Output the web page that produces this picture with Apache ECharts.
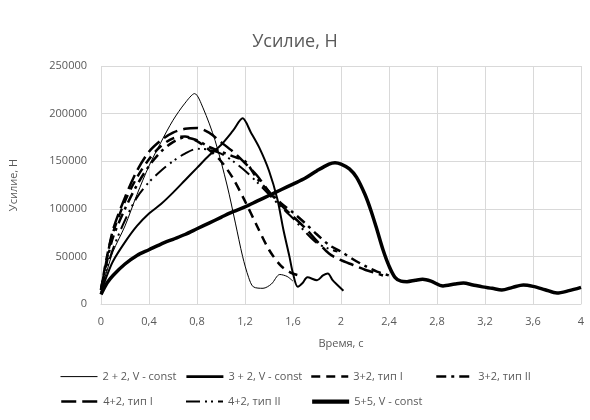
<!DOCTYPE html>
<html>
<head>
<meta charset="utf-8">
<script src="https://cdn.jsdelivr.net/npm/echarts@6/dist/echarts.min.js"></script>
<style>
  html, body { margin: 0; padding: 0; background: #fff; }
  #chart { width: 590px; height: 420px; }
</style>
</head>
<body>
<div id="chart"></div>
<script>
// Force vs. time for seven test runs: [time, s ; force, N]
var s22V = [[0,15000],[0.05,35000],[0.1,55000],[0.2,82000],[0.3,115000],[0.4,145000],[0.5,170000],[0.6,193000],[0.7,211000],[0.78,221000],[0.85,206000],[0.95,172000],[1.05,125000],[1.12,85000],[1.18,50000],[1.23,28000],[1.27,18000],[1.35,16500],[1.42,21000],[1.49,31000],[1.55,29000],[1.6,24000]];
var s32V = [[0,12000],[0.05,30000],[0.1,45000],[0.2,65000],[0.3,82000],[0.4,95000],[0.5,105000],[0.6,117000],[0.7,130000],[0.8,143000],[0.9,156000],[1.0,167000],[1.1,182000],[1.18,195000],[1.25,180000],[1.32,164000],[1.4,140000],[1.47,110000],[1.52,78000],[1.57,50000],[1.6,32000],[1.64,18000],[1.68,22000],[1.72,28000],[1.8,25000],[1.85,30000],[1.89,32000],[1.93,25000],[1.97,20000],[2.02,14000]];
var s32T1 = [[0,15000],[0.05,50000],[0.1,75000],[0.2,108000],[0.3,133000],[0.4,152000],[0.5,166000],[0.6,174000],[0.7,176000],[0.8,171000],[0.9,162000],[1.0,150000],[1.1,132000],[1.2,108000],[1.3,82000],[1.4,57000],[1.5,40000],[1.58,33000],[1.65,30000]];
var s32T2 = [[0,15000],[0.05,45000],[0.1,70000],[0.2,100000],[0.3,125000],[0.4,145000],[0.5,160000],[0.6,170000],[0.7,175000],[0.8,172000],[0.9,165000],[1.0,160000],[1.1,155000],[1.2,150000],[1.3,132000],[1.4,118000],[1.5,106000],[1.6,96000],[1.7,85000],[1.8,73000],[1.9,62000],[2.0,55000],[2.1,47000],[2.2,40000],[2.3,34000],[2.4,30000]];
var s42T1 = [[0,15000],[0.05,48000],[0.1,78000],[0.2,112000],[0.3,140000],[0.4,160000],[0.5,172000],[0.6,180000],[0.7,184000],[0.8,185000],[0.9,180000],[1.0,170000],[1.1,160000],[1.2,148000],[1.3,135000],[1.4,118000],[1.5,104000],[1.6,92000],[1.7,80000],[1.8,66000],[1.9,53000],[2.0,46000],[2.1,41000],[2.2,36000],[2.3,32000],[2.35,30000]];
var s42T2 = [[0,15000],[0.05,38000],[0.1,58000],[0.2,88000],[0.3,112000],[0.4,128000],[0.5,140000],[0.6,150000],[0.7,158000],[0.8,163000],[0.9,162000],[1.0,158000],[1.1,150000],[1.2,140000],[1.3,128000],[1.4,115000],[1.5,102000],[1.6,90000],[1.7,76000],[1.8,64000],[1.9,58000],[1.97,55000]];
var s55V = [[0,10000],[0.05,22000],[0.1,30000],[0.2,42000],[0.3,51000],[0.4,57000],[0.5,63000],[0.6,68000],[0.7,73000],[0.8,79000],[0.9,85000],[1.0,91000],[1.1,97000],[1.2,102000],[1.3,108000],[1.4,114000],[1.5,120000],[1.6,126000],[1.7,132000],[1.8,140000],[1.9,147000],[1.95,148500],[2.0,147000],[2.07,142000],[2.13,133000],[2.2,115000],[2.25,98000],[2.3,78000],[2.35,57000],[2.4,40000],[2.45,28000],[2.5,24000],[2.55,23500],[2.62,25000],[2.68,26000],[2.75,24000],[2.85,19000],[2.95,21000],[3.02,22000],[3.1,20000],[3.18,18000],[3.26,16500],[3.34,14700],[3.43,17500],[3.52,20000],[3.6,18500],[3.7,15000],[3.8,11500],[3.9,14000],[4.0,17500]];

var seriesNames = ['2 + 2, V - const', '3 + 2, V - const', '3+2, тип I', '3+2, тип II', '4+2, тип I', '4+2, тип II', '5+5, V - const'];
var seriesData = [s22V, s32V, s32T1, s32T2, s42T1, s42T2, s55V];

var xMin = 0, xMax = 4, xStep = 0.4;
var yMin = 0, yMax = 250000, yStep = 50000;

var font = 'Open Sans';
var grey = '#595959';

// line look per run
var styles = [
  { width: 1,   type: 'solid' },
  { width: 2,   type: 'solid' },
  { width: 2.5, type: [9, 6] },
  { width: 2.5, type: [10, 5, 3, 5] },
  { width: 2.5, type: [15, 6] },
  { width: 2,   type: [14, 5, 2, 4, 2, 5] },
  { width: 3.5, type: 'solid' }
];

// legend placement, two rows in Excel-like columns
var legendPos = [[60,371],[185,371],[310,371],[435,371],[60,396],[185,396],[310,396]];

var series = seriesNames.map(function (name, i) {
  return {
    name: name,
    type: 'line',
    data: seriesData[i],
    showSymbol: false,
    symbol: 'none',
    smooth: 0.3,
    animation: false,
    lineStyle: { color: '#000', width: styles[i].width, type: styles[i].type, cap: 'butt', join: 'round' },
    itemStyle: { color: '#000' }
  };
});

var legends = seriesNames.map(function (name, i) {
  return {
    data: [name],
    left: legendPos[i][0],
    top: legendPos[i][1],
    itemWidth: 37,
    itemHeight: 14,
    padding: 0,
    itemStyle: { opacity: 0 },
    lineStyle: { color: '#000', width: styles[i].width + (i === 1 || i === 6 ? 0.8 : 0), type: styles[i].type },
    textStyle: { fontFamily: font, fontSize: 11, color: grey }
  };
});

var chart = echarts.init(document.getElementById('chart'), null, { renderer: 'canvas' });
chart.setOption({
  backgroundColor: '#fff',
  animation: false,
  title: {
    text: 'Усилие, Н',
    left: 'center',
    top: 28,
    textStyle: { fontFamily: font, fontSize: 18, fontWeight: 'normal', color: grey }
  },
  legend: legends,
  grid: { left: 101, right: 9, top: 66, bottom: 116 },
  xAxis: {
    type: 'value',
    min: xMin, max: xMax, interval: xStep,
    name: 'Время, с',
    nameLocation: 'middle',
    nameGap: 34,
    nameTextStyle: { fontFamily: font, fontSize: 11, color: grey },
    axisLine: { show: true, lineStyle: { color: '#d9d9d9' } },
    axisTick: { show: false },
    axisLabel: {
      fontFamily: font, fontSize: 11, color: grey, margin: 12,
      formatter: function (v) { return String(Math.round(v * 10) / 10).replace('.', ','); }
    },
    splitLine: { show: true, lineStyle: { color: '#d9d9d9' } }
  },
  yAxis: {
    type: 'value',
    min: yMin, max: yMax, interval: yStep,
    name: 'Усилие, Н',
    nameLocation: 'middle',
    nameGap: 82,
    nameTextStyle: { fontFamily: font, fontSize: 11, color: grey },
    axisLine: { show: false },
    axisTick: { show: false },
    axisLabel: {
      fontFamily: font, fontSize: 11, color: grey, margin: 14,
      formatter: function (v) { return String(v); }
    },
    splitLine: { show: true, lineStyle: { color: '#d9d9d9' } }
  },
  series: series
});
</script>
</body>
</html>
